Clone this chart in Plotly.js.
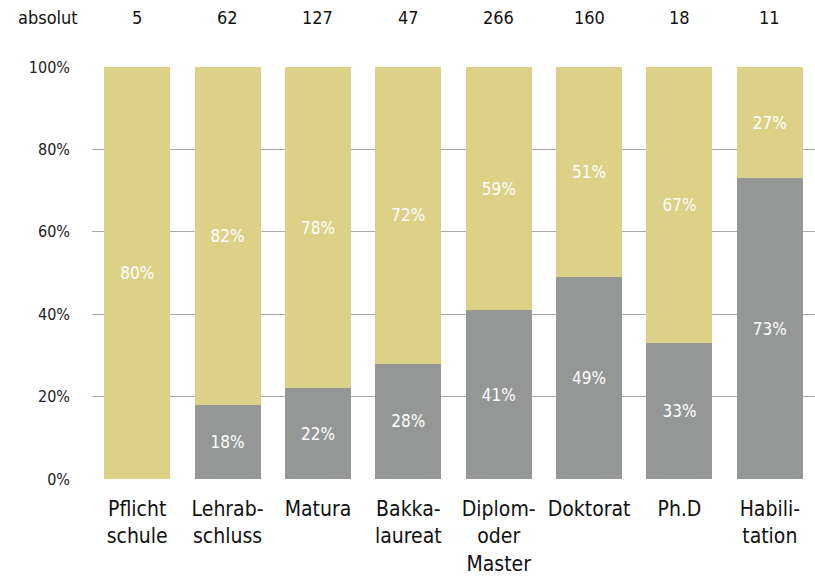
<!DOCTYPE html>
<html><head><meta charset="utf-8">
<script src="https://cdn.plot.ly/plotly-3.0.1.min.js"></script>
<style>html,body{margin:0;padding:0;background:#fff}#chart{width:815px;height:577px}</style>
</head><body><div id="chart"></div>
<script>
const categories = ["Pflicht<br>schule","Lehrab-<br>schluss","Matura","Bakka-<br>laureat","Diplom-<br>oder<br>Master","Doktorat","Ph.D","Habili-<br>tation"];
const absolut = [5, 62, 127, 47, 266, 160, 18, 11];
const grayValues = [0, 18, 22, 28, 41, 49, 33, 73];
const yellowValues = [100, 82, 78, 72, 59, 51, 67, 27];
const grayLabels = ["", "18%", "22%", "28%", "41%", "49%", "33%", "73%"];
const yellowLabels = ["80%", "82%", "78%", "72%", "59%", "51%", "67%", "27%"];
const yTicks = [0, 20, 40, 60, 80, 100];
const yTickLabels = ["0%", "20%", "40%", "60%", "80%", "100%"];

const FONT = '"DejaVu Sans Condensed", "Liberation Sans Narrow", sans-serif';

const traces = [
  {type:'bar', x:categories, y:grayValues, text:grayLabels, textposition:'inside', insidetextanchor:'middle',
   textfont:{color:'#ffffff', size:17, family:FONT}, marker:{color:'#949796'}, hoverinfo:'skip'},
  {type:'bar', x:categories, y:yellowValues, text:yellowLabels, textposition:'inside', insidetextanchor:'middle',
   textfont:{color:'#ffffff', size:17, family:FONT}, marker:{color:'#DDD188'}, hoverinfo:'skip'}
];

const annotations = [{xref:'paper', yref:'paper', x:-0.061, y:1.119, text:'absolut', showarrow:false,
  font:{size:18, color:'#111', family:FONT}, xanchor:'center', yanchor:'middle'}];
absolut.forEach((v,i)=>annotations.push({xref:'x', yref:'paper', x:categories[i], y:1.119, text:String(v),
  showarrow:false, font:{size:18, color:'#111', family:FONT}, xanchor:'center', yanchor:'middle'}));

Plotly.newPlot('chart', traces, {
  width:815, height:577,
  margin:{l:92, r:0, t:67, b:98},
  barmode:'stack', bargap:0.27, showlegend:false,
  paper_bgcolor:'#fff', plot_bgcolor:'#fff',
  font:{family:FONT, color:'#111'},
  xaxis:{type:'category', tickfont:{size:21, color:'#111', family:FONT}, showgrid:false, zeroline:false, showline:false, ticks:'', ticklabelstandoff:15, fixedrange:true},
  yaxis:{range:[0,100], tickvals:yTicks, ticktext:yTickLabels, tickfont:{size:16, color:'#222', family:FONT},
    showgrid:true, gridcolor:'#a9a9a9', gridwidth:1.3, zeroline:false, showline:false, ticks:'', ticklabelstandoff:21, fixedrange:true},
  annotations:annotations
}, {displayModeBar:false, staticPlot:true});
</script></body></html>
